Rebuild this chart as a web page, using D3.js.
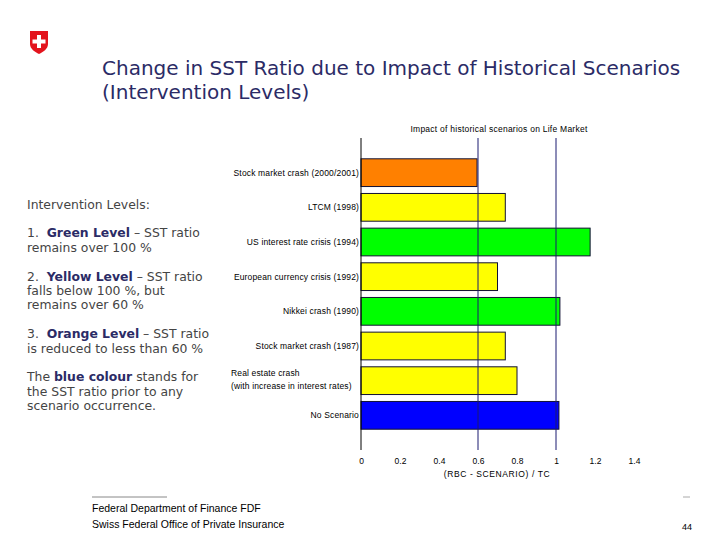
<!DOCTYPE html>
<html>
<head>
<meta charset="utf-8">
<script src="https://cdn.jsdelivr.net/npm/d3@7"></script>
<style>
  body { margin: 0; background: #fff; }
  svg { display: block; }
  text { white-space: pre; }
</style>
</head>
<body>
<script>
// data
var scenarios = [
  "Stock market crash (2000/2001)",
  "LTCM (1998)",
  "US interest rate crisis (1994)",
  "European currency crisis (1992)",
  "Nikkei crash (1990)",
  "Stock market crash (1987)",
  "Real estate crash|(with increase in interest rates)",
  "No Scenario"
];
var ratios = [0.595, 0.74, 1.175, 0.70, 1.02, 0.74, 0.80, 1.015];
var levels = ["orange", "yellow", "green", "yellow", "green", "yellow", "yellow", "none"];
var xTicks = [0, 0.2, 0.4, 0.6, 0.8, 1, 1.2, 1.4];
var thresholds = [0.6, 1];

var width = 720, height = 540;
var svg = d3.select("body").append("svg")
  .attr("width", width)
  .attr("height", height);

// swiss shield
var logo = svg.append("g").attr("transform", "translate(39,42)");
logo.append("path")
  .attr("d", "M-9,-11 L9,-11 L9,2 C9,7 4,10 0,12 C-4,10 -9,7 -9,2 Z")
  .attr("fill", "#e3141d");
logo.append("rect").attr("x", -2).attr("y", -7).attr("width", 4).attr("height", 13).attr("fill", "#fff");
logo.append("rect").attr("x", -6.5).attr("y", -2.5).attr("width", 13).attr("height", 4).attr("fill", "#fff");

// title
var title = svg.append("text")
  .attr("x", 102)
  .attr("font-family", "DejaVu Sans, Verdana, sans-serif")
  .attr("font-size", 20)
  .attr("fill", "#2b2b66");
title.append("tspan").attr("x", 102).attr("y", 75).text("Change in SST Ratio due to Impact of Historical Scenarios");
title.append("tspan").attr("x", 102).attr("y", 99).text("(Intervention Levels)");

// left notes
var notes = [
  [["Intervention Levels:", false]],
  null,
  [["1.  ", false], ["Green Level", true], [" \u2013 SST ratio", false]],
  [["remains over 100 %", false]],
  null,
  [["2.  ", false], ["Yellow Level", true], [" \u2013 SST ratio", false]],
  [["falls below 100 %, but", false]],
  [["remains over 60 %", false]],
  null,
  [["3.  ", false], ["Orange Level", true], [" \u2013 SST ratio", false]],
  [["is reduced to less than 60 %", false]],
  null,
  [["The ", false], ["blue colour", true], [" stands for", false]],
  [["the SST ratio prior to any", false]],
  [["scenario occurrence.", false]]
];
var noteY = [209, 0, 237, 252, 0, 281, 295, 309, 0, 338, 353, 0, 381, 396, 410];
var noteG = svg.append("g")
  .attr("font-family", "DejaVu Sans, Verdana, sans-serif")
  .attr("font-size", 12.4)
  .attr("fill", "#444");
notes.forEach(function(line, i) {
  if (!line) return;
  var t = noteG.append("text").attr("x", 27).attr("y", noteY[i]);
  line.forEach(function(part) {
    t.append("tspan")
      .attr("font-weight", part[1] ? "bold" : null)
      .attr("fill", part[1] ? "#2b2b66" : null)
      .text(part[0]);
  });
});

// chart
var x = d3.scaleLinear().domain([0, 1.4]).range([361, 634]);
var y = d3.scaleBand().domain(scenarios).range([138, 450])
  .paddingInner(0.2).paddingOuter(0.6);
var colour = d3.scaleOrdinal()
  .domain(["orange", "yellow", "green", "none"])
  .range(["#ff8000", "#ffff00", "#00ff00", "#0000ff"]);

svg.append("text")
  .attr("x", 499).attr("y", 132)
  .attr("text-anchor", "middle")
  .attr("font-family", "Liberation Sans, Arial, sans-serif")
  .attr("font-size", 8.5)
  .attr("letter-spacing", 0.25)
  .attr("fill", "#000")
  .text("Impact of historical scenarios on Life Market");

svg.append("g").selectAll("rect")
  .data(scenarios)
  .enter()
  .append("rect")
  .attr("x", x(0))
  .attr("y", function(d) { return y(d); })
  .attr("width", function(d, i) { return x(ratios[i]) - x(0); })
  .attr("height", y.bandwidth())
  .attr("fill", function(d, i) { return colour(levels[i]); })
  .attr("stroke", "#111133")
  .attr("stroke-width", 1);

// threshold lines drawn over the bars
svg.append("g").selectAll("line")
  .data(thresholds)
  .enter()
  .append("line")
  .attr("x1", function(d) { return x(d); })
  .attr("x2", function(d) { return x(d); })
  .attr("y1", 138).attr("y2", 450)
  .attr("stroke", "#1a1a70")
  .attr("stroke-width", 1);

// vertical axis line
svg.append("line")
  .attr("x1", x(0)).attr("x2", x(0))
  .attr("y1", 138).attr("y2", 450)
  .attr("stroke", "#000");

// category labels
var labels = svg.append("g")
  .attr("font-family", "Liberation Sans, Arial, sans-serif")
  .attr("font-size", 8.5)
  .attr("letter-spacing", 0.15)
  .attr("fill", "#000");
scenarios.forEach(function(s) {
  var parts = s.split("|");
  var cy = y(s) + y.bandwidth() / 2;
  if (parts.length === 1) {
    labels.append("text")
      .attr("x", x(0) - 2).attr("y", cy + 3)
      .attr("text-anchor", "end")
      .text(s);
  } else {
    labels.append("text").attr("x", 231).attr("y", cy - 5).text(parts[0]);
    labels.append("text").attr("x", 231).attr("y", cy + 8).text(parts[1]);
  }
});

// x axis
var xAxis = d3.axisBottom(x).tickValues(xTicks).tickSize(0).tickPadding(7)
  .tickFormat(function(d) { return d3.format("")(d); });
var ax = svg.append("g").attr("transform", "translate(0,457)").call(xAxis);
ax.select(".domain").remove();
ax.selectAll("text")
  .attr("font-family", "Liberation Sans, Arial, sans-serif")
  .attr("font-size", 8.5)
  .attr("fill", "#000")
  .attr("dy", "0");

svg.append("text")
  .attr("x", 497).attr("y", 477)
  .attr("text-anchor", "middle")
  .attr("font-family", "Liberation Sans, Arial, sans-serif")
  .attr("font-size", 8.5)
  .attr("letter-spacing", 0.6)
  .attr("fill", "#000")
  .text("(RBC - SCENARIO) / TC");

// footer
svg.append("line").attr("x1", 92).attr("x2", 167).attr("y1", 497).attr("y2", 497)
  .attr("stroke", "#888");
svg.append("line").attr("x1", 683).attr("x2", 690).attr("y1", 497).attr("y2", 497)
  .attr("stroke", "#aaa");
var foot = svg.append("g")
  .attr("font-family", "Liberation Sans, Arial, sans-serif")
  .attr("font-size", 10.5)
  .attr("fill", "#000");
foot.append("text").attr("x", 92).attr("y", 512).text("Federal Department of Finance FDF");
foot.append("text").attr("x", 92).attr("y", 528).text("Swiss Federal Office of Private Insurance");
foot.append("text").attr("x", 692).attr("y", 530).attr("text-anchor", "end")
  .attr("font-size", 9).text("44");
</script>
</body>
</html>
